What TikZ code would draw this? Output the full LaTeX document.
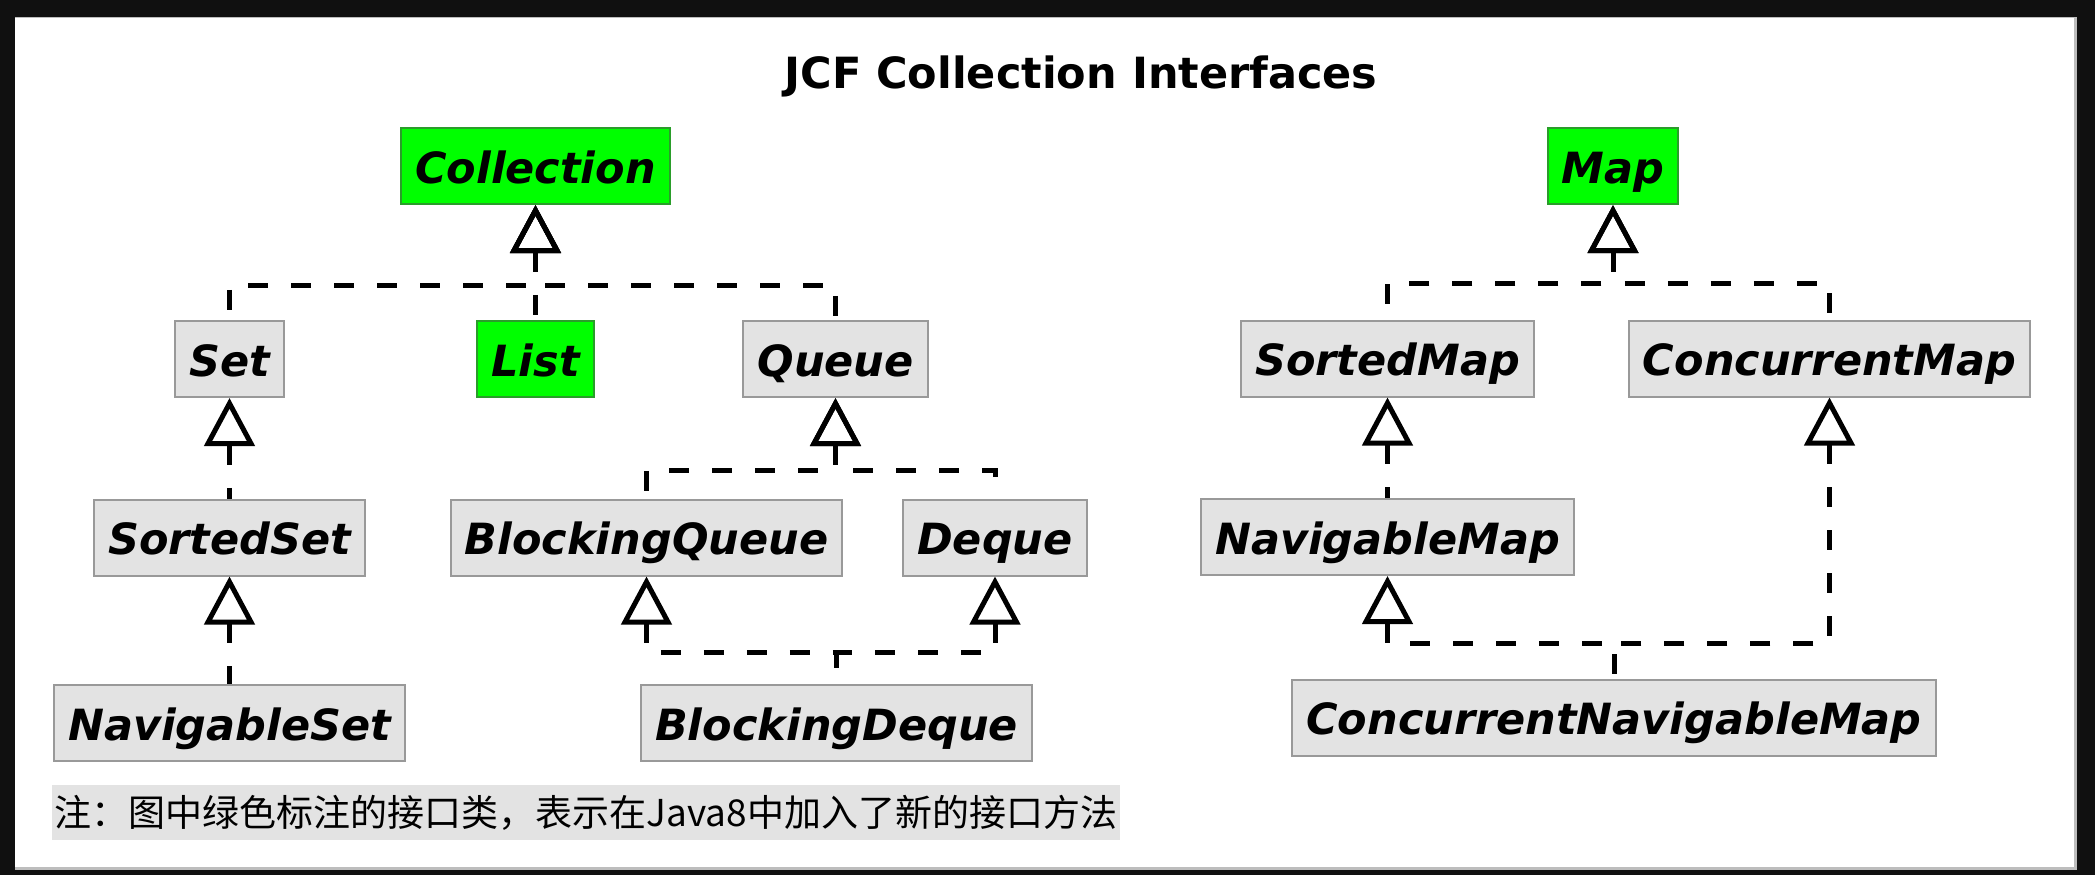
\documentclass[tikz,border=0pt]{standalone}
\usepackage{fontspec}
\setmainfont{DejaVu Sans}[BoldFont={DejaVu Sans Bold},ItalicFont={DejaVu Sans Oblique},BoldItalicFont={DejaVu Sans Bold Oblique}]
\newfontfamily\cjkfont{Noto Sans CJK SC}
\usetikzlibrary{arrows.meta,positioning}
\definecolor{frameblack}{HTML}{101010}
\definecolor{edgegray}{HTML}{BDBDBD}
\definecolor{boxgray}{HTML}{E3E3E3}
\definecolor{boxline}{HTML}{999999}
\definecolor{newgreen}{HTML}{00FF00}
\definecolor{newline}{HTML}{2A9D2A}

\begin{document}
\begin{tikzpicture}[
    x=0.5pt, y=-0.5pt,
    iface/.style={rectangle,draw=boxline,fill=boxgray,line width=1pt,minimum height=38pt,inner xsep=7pt,text height=17pt,text depth=0pt,font=\bfseries\itshape\fontsize{21.5}{26}\selectfont},
    newiface/.style={iface,draw=newline,fill=newgreen},
    realize/.style={line width=2.5pt,dash pattern=on 10pt off 11.5pt,{Triangle[open,length=24pt,width=25pt]}-},
    note/.style={fill=boxgray,inner xsep=1.5pt,inner ysep=5pt,font=\cjkfont\fontsize{18.5}{22}\selectfont}
]
    % frame
    \useasboundingbox (0,0) rectangle (2095,875);
    \fill[frameblack] (0,0) rectangle (2095,875);
    \fill[edgegray] (15,17) rectangle (2077,870);
    \fill[white] (15,18) rectangle (2074,867);

    \node[font=\bfseries\fontsize{21.5}{26}\selectfont] (title) at (1081,76) {JCF Collection Interfaces};

    % collection side
    \node[newiface] (coll) at (535.5,166) {Collection};
    \node[iface] (set) at (229.5,359) {Set};
    \node[newiface] (list) at (535.5,359) {List};
    \node[iface] (queue) at (835.5,359) {Queue};
    \node[iface] (sset) at (229.5,537.5) {SortedSet};
    \node[iface] (bq) at (646.5,537.5) {BlockingQueue};
    \node[iface] (deque) at (995,537.5) {Deque};
    \node[iface] (nset) at (229.5,723) {NavigableSet};
    \node[iface] (bd) at (836.5,723) {BlockingDeque};

    % map side
    \node[newiface] (map) at (1613,166) {Map};
    \node[iface] (smap) at (1387.5,358.5) {SortedMap};
    \node[iface] (cm) at (1829.5,358.5) {ConcurrentMap};
    \node[iface] (nmap) at (1387.5,537) {NavigableMap};
    \node[iface] (cnm) at (1614,717.5) {ConcurrentNavigableMap};

    \node[note] (remark) at (586,812.5) {注：图中绿色标注的接口类，表示在Java8中加入了新的接口方法};

    \coordinate (collbus) at (535.5,285);
    \draw[realize] (coll.south) -- (collbus) -| (set.north);
    \draw[realize] (coll.south) -- (list.north);
    \draw[realize] (coll.south) -- (collbus) -| (queue.north);
    \draw[realize] (set.south) -- (sset.north);
    \draw[realize] (sset.south) -- (nset.north);
    \coordinate (queuebus) at (835.5,470);
    \draw[realize] (queue.south) -- (queuebus) -| (bq.north);
    \draw[realize] (queue.south) -- (queuebus) -| (deque.north);
    \coordinate (bdbus) at (836.5,652);
    \draw[realize] (bq.south) |- (bdbus) -- (bd.north);
    \draw[realize] (deque.south) |- (bdbus);

    \coordinate (mapbus) at (1613,283);
    \draw[realize] (map.south) -- (mapbus) -| (smap.north);
    \draw[realize] (map.south) -- (mapbus) -| (cm.north);
    \draw[realize] (smap.south) -- (nmap.north);
    \coordinate (cnmbus) at (1614,643);
    \draw[realize] (nmap.south) |- (cnmbus) -- (cnm.north);
    \draw[realize] (cm.south) |- (cnmbus);
\end{tikzpicture}
\end{document}
